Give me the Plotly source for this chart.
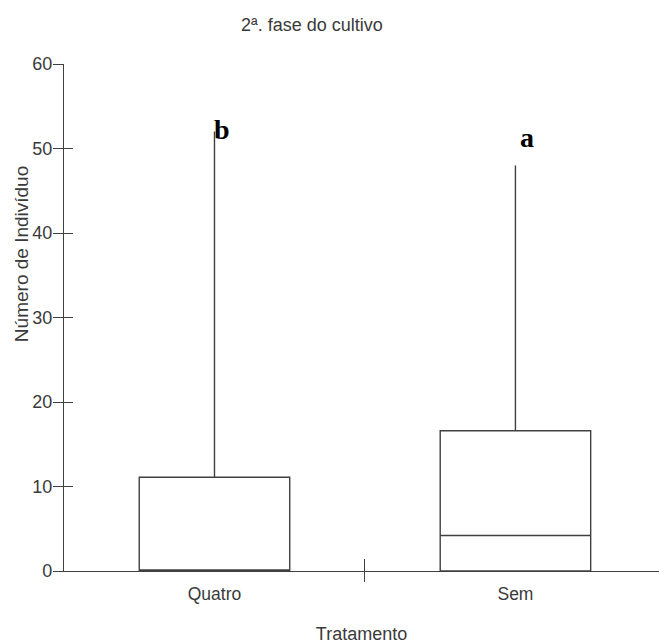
import plotly.graph_objects as go

categories = ["Quatro", "Sem"]
lower_fence = [0, 0]
q1 = [0, 0]
median = [0, 4.2]
q3 = [11.1, 16.6]
upper_fence = [52, 48]
letters = ["b", "a"]
letter_y = [52.3, 51.3]
letter_dx = [0.026, 0.038]
y_ticks = [0, 10, 20, 30, 40, 50, 60]

LINE = "#404040"
TXT = "#3a3a3a"
FONT = "Liberation Sans, Arial, sans-serif"
xpos = list(range(len(categories)))

fig = go.Figure()
fig.add_trace(go.Box(
    x=xpos, q1=q1, median=median, q3=q3,
    lowerfence=lower_fence, upperfence=upper_fence,
    width=0.5, whiskerwidth=0, fillcolor="white",
    line=dict(color=LINE, width=1.4), boxpoints=False,
    showlegend=False, hoverinfo="skip",
))
# helper invisible traces for overlay axes
fig.add_trace(go.Scatter(x=[0.5], y=[0], xaxis="x2", yaxis="y2", mode="markers",
                         marker=dict(opacity=0), showlegend=False, hoverinfo="skip"))
fig.add_trace(go.Scatter(x=[0.5], y=[0], xaxis="x3", yaxis="y2", mode="markers",
                         marker=dict(opacity=0), showlegend=False, hoverinfo="skip"))

for i, t in enumerate(letters):
    fig.add_annotation(x=xpos[i] + letter_dx[i], y=letter_y[i], text="<b>%s</b>" % t,
                       showarrow=False, xanchor="center", yanchor="middle",
                       font=dict(family="Liberation Serif, Times New Roman, serif", size=28, color="black"))

xr = [-0.5, 1.477]
yr = [0, 60]
fig.update_layout(
    width=659, height=644,
    margin=dict(l=64, r=0, t=64, b=73),
    paper_bgcolor="white", plot_bgcolor="white",
    font=dict(family=FONT, size=17, color=TXT),
    xaxis=dict(range=xr, tickmode="array", tickvals=xpos, ticktext=categories,
               ticks="outside", ticklen=7, tickcolor="rgba(0,0,0,0)",
               showline=True, linecolor=LINE, linewidth=1.4, showgrid=False, zeroline=False,
               tickfont=dict(size=17.5, color=TXT),
               title=dict(text="Tratamento", font=dict(size=18, color=TXT), standoff=24)),
    xaxis2=dict(range=xr, overlaying="x", tickmode="array", tickvals=[0.5], showticklabels=False,
                ticks="outside", ticklen=10, tickcolor=LINE, tickwidth=1.4,
                showline=False, showgrid=False, zeroline=False, anchor="y2"),
    xaxis3=dict(range=xr, overlaying="x", tickmode="array", tickvals=[0.5], showticklabels=False,
                ticks="inside", ticklen=12, tickcolor=LINE, tickwidth=1.4,
                showline=False, showgrid=False, zeroline=False, anchor="y2"),
    yaxis=dict(range=yr, tickmode="array", tickvals=y_ticks,
               ticks="outside", ticklen=10, tickcolor=LINE, tickwidth=1.4,
               showline=True, linecolor=LINE, linewidth=1.4, showgrid=False, zeroline=False,
               tickfont=dict(size=18, color=TXT), ticklabelstandoff=-3),
    yaxis2=dict(range=yr, overlaying="y", tickmode="array", tickvals=y_ticks, showticklabels=False,
                ticks="inside", ticklen=9, tickcolor=LINE, tickwidth=1.4,
                showline=False, showgrid=False, zeroline=False, anchor="x2"),
)
fig.add_annotation(text="Número de Indivíduo", xref="paper", yref="paper",
                   x=0, xshift=-43, y=0.625, textangle=-90,
                   xanchor="center", yanchor="middle", showarrow=False,
                   font=dict(size=19, color=TXT))
fig.add_annotation(text="2ª. fase do cultivo", xref="paper", yref="paper",
                   x=0.416, y=1, yshift=39, xanchor="center", yanchor="middle",
                   showarrow=False, font=dict(size=18, color=TXT))

fig.write_html("out.html", config={"displayModeBar": False},
               post_script="document.body.style.margin='0';document.body.style.overflow='hidden';")
